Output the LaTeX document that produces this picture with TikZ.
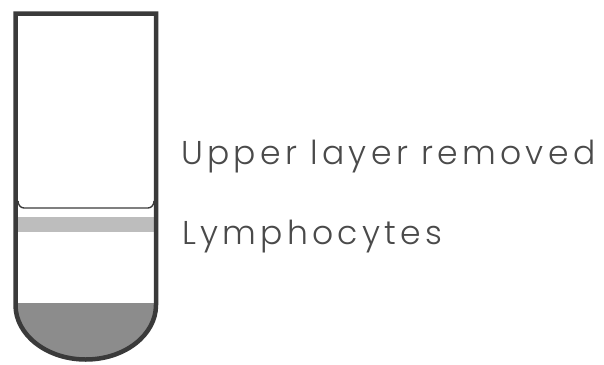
\documentclass[tikz,border=0pt]{standalone}
\usepackage{fontspec}
\setmainfont{Poppins}[UprightFont=* Light, LetterSpace=13]
\usepackage{tikz}
\usetikzlibrary{positioning}
\definecolor{tubeline}{HTML}{3A3A3A}
\definecolor{textgray}{HTML}{4A4A4A}
\definecolor{bandfill}{HTML}{BDBDBD}
\definecolor{pelletfill}{HTML}{8C8C8C}

\begin{document}
\begin{tikzpicture}[
  x=1pt, y=-1pt,
  wall/.style={draw=tubeline, line width=4.5pt},
  layertext/.style={anchor=base west, inner sep=0pt, text=textgray, font=\fontsize{33}{36}\selectfont}
]
  \useasboundingbox (0,0) rectangle (604,364);

  % tube body and fills
  \begin{scope}
    \clip (15.5,13.5) -- (156,13.5) -- (156,305)
      arc[start angle=0, end angle=180, x radius=70.25, y radius=54.5] -- cycle;
    \fill[bandfill] (0,217) rectangle (200,232);
    \fill[pelletfill] (0,303) rectangle (200,364);
  \end{scope}

  % meniscus of the upper layer
  \draw[tubeline, line width=1.4pt] (18,201) to[out=-90,in=180] (24,208) -- (148,208) to[out=0,in=-90] (154,201);

  \draw[wall] (15.5,13.5) -- (156,13.5) -- (156,305)
    arc[start angle=0, end angle=180, x radius=70.25, y radius=54.5] -- cycle;

  \node[layertext] (upper) at (181,164) {Upper layer removed};
  \node[layertext] (lympho) at (182,244) {Lymphocytes};
\end{tikzpicture}
\end{document}
